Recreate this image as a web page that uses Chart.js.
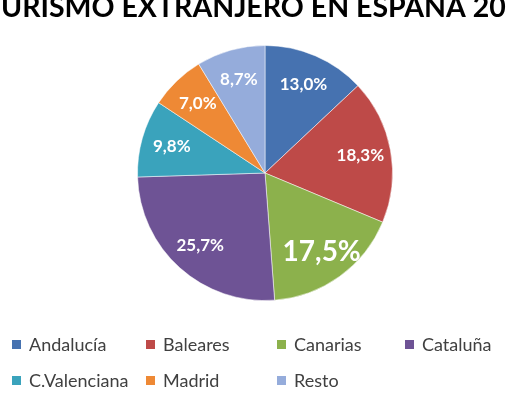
<!DOCTYPE html>
<html>
<head>
<meta charset="utf-8">
<script src="https://cdn.jsdelivr.net/npm/chart.js@4"></script>
<style>
html,body{margin:0;padding:0;background:#fff;}
#wrap{position:relative;width:508px;height:395px;}
</style>
</head>
<body>
<div id="wrap"><canvas id="c" width="508" height="395"></canvas></div>
<script>
const titleText = "TURISMO EXTRANJERO EN ESPAÑA 20";
const categories = ["Andalucía","Baleares","Canarias","Cataluña","C.Valenciana","Madrid","Resto"];
const values = [13.0, 18.3, 17.5, 25.7, 9.8, 7.0, 8.7];
const valueLabels = ["13,0%","18,3%","17,5%","25,7%","9,8%","7,0%","8,7%"];
const colors = ["#4672B0","#BE4A48","#8CB14C","#6E5395","#3AA3BC","#EE8935","#95ACDB"];

const FONT = "Lato, 'Open Sans', sans-serif";

const titlePlugin = {
  id: 'clippedTitle',
  afterDraw(chart) {
    const ctx = chart.ctx;
    ctx.save();
    ctx.font = "bold 28.5px " + FONT;
    ctx.fillStyle = "#000";
    ctx.textBaseline = "alphabetic";
    ctx.textAlign = "left";
    const wT = ctx.measureText("T").width;
    ctx.fillText(titleText, 1 - wT, 17);
    ctx.restore();
  }
};

const labelPlugin = {
  id: 'sliceLabels',
  afterDatasetsDraw(chart) {
    const ctx = chart.ctx;
    const meta = chart.getDatasetMeta(0);
    ctx.save();
    ctx.fillStyle = "#fff";
    ctx.textAlign = "center";
    ctx.textBaseline = "middle";
    meta.data.forEach((arc, i) => {
      const p = arc.getProps(['x','y','startAngle','endAngle','outerRadius']);
      const a = (p.startAngle + p.endAngle) / 2;
      const r = p.outerRadius * 0.76;
      const x = p.x + Math.cos(a) * r;
      const y = p.y + Math.sin(a) * r;
      if (i === 2) ctx.font = "bold 28px " + FONT;
      else ctx.font = "bold 17px " + FONT;
      ctx.fillText(valueLabels[i], x, y);
    });
    ctx.restore();
  }
};

const legendPlugin = {
  id: 'gridLegend',
  afterDraw(chart) {
    const ctx = chart.ctx;
    const colX = [12, 146, 277, 405];
    const rowY = [345, 381];
    ctx.save();
    ctx.font = "18px " + FONT;
    ctx.textBaseline = "middle";
    ctx.textAlign = "left";
    chart.data.labels.forEach((lab, i) => {
      const col = i % 4, row = Math.floor(i / 4);
      const x = colX[col], y = rowY[row];
      ctx.fillStyle = chart.data.datasets[0].backgroundColor[i];
      ctx.fillRect(x, y - 5, 9, 9);
      ctx.fillStyle = "#404040";
      ctx.fillText(lab, x + 17, y);
    });
    ctx.restore();
  }
};

new Chart(document.getElementById('c'), {
  type: 'pie',
  data: {
    labels: categories,
    datasets: [{
      data: values,
      backgroundColor: colors,
      borderColor: "rgba(255,255,255,0.5)",
      borderWidth: 1
    }]
  },
  options: {
    responsive: false,
    animation: false,
    devicePixelRatio: 1,
    layout: { padding: { top: 45, bottom: 94, left: 137, right: 115 } },
    plugins: {
      legend: { display: false },
      title: { display: false },
      tooltip: { enabled: false }
    }
  },
  plugins: [titlePlugin, labelPlugin, legendPlugin]
});
</script>
</body>
</html>
